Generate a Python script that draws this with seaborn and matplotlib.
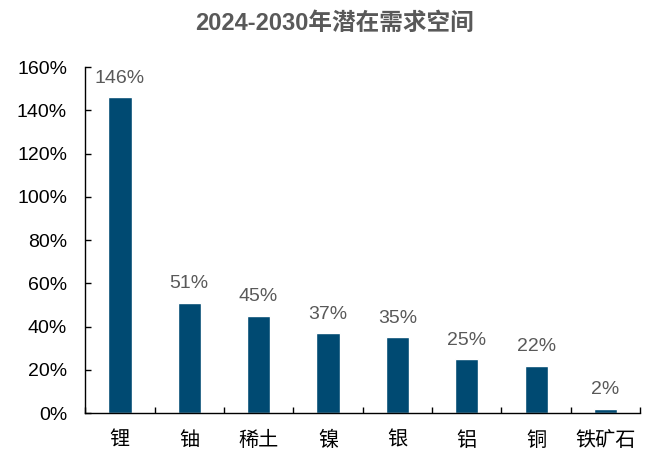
import matplotlib
matplotlib.use("Agg")
import matplotlib.pyplot as plt
import numpy as np
import pandas as pd
import seaborn as sns

categories = ["锂", "铀", "稀土", "镍", "银", "铝", "铜", "铁矿石"]
values = [146, 51, 45, 37, 35, 25, 22, 2]
y_ticks = [0, 20, 40, 60, 80, 100, 120, 140, 160]
title = "2024-2030年潜在需求空间"

sns.set_theme(style="white")
plt.rcParams["font.family"] = ["Liberation Sans", "Noto Sans CJK SC", "DejaVu Sans"]

df = pd.DataFrame({"metal": categories, "pct": values})

fig = plt.figure(figsize=(6.5, 4.5), dpi=100)
ax = fig.add_axes([0.131, 0.082, 0.854, 0.769])

sns.barplot(data=df, x="metal", y="pct", color="#004A72", width=0.336,
            saturation=1, ax=ax)

# value labels above each bar
for i, v in enumerate(values):
    ax.annotate(f"{v}%", xy=(i, v), xytext=(0, 7.5), textcoords="offset points",
                ha="center", va="bottom", fontsize=14, color="#595959")

ax.set_ylim(0, 160)
ax.set_xlim(-0.5, len(categories) - 0.5)
ax.set_yticks(y_ticks)
ax.set_yticklabels([f"{t}%" for t in y_ticks], fontsize=14, color="#000000")
ax.set_xticks(range(len(categories)))
ax.set_xticklabels(categories, fontsize=14.5, color="#000000",
                   family=["Noto Sans CJK SC", "DejaVu Sans"])
# separator ticks between categories
ax.set_xticks(np.arange(-0.5, len(categories), 1), minor=True)
ax.tick_params(axis="x", which="major", length=0, pad=12)
ax.tick_params(axis="x", which="minor", direction="in", length=4.3,
               width=1, color="black", bottom=True)
ax.tick_params(axis="y", direction="in", length=4.3, width=1, color="black",
               left=True, pad=13)
ax.set_xlabel("")
ax.set_ylabel("")

for side in ["top", "right"]:
    ax.spines[side].set_visible(False)
for side in ["left", "bottom"]:
    ax.spines[side].set_color("black")
    ax.spines[side].set_linewidth(1)

fig.text(0.515, 0.947, title, ha="center", va="center", fontsize=17,
         fontweight="bold", color="#595959",
         family=["Liberation Sans", "Noto Sans CJK SC"])

fig.savefig("out.png", dpi=100)
